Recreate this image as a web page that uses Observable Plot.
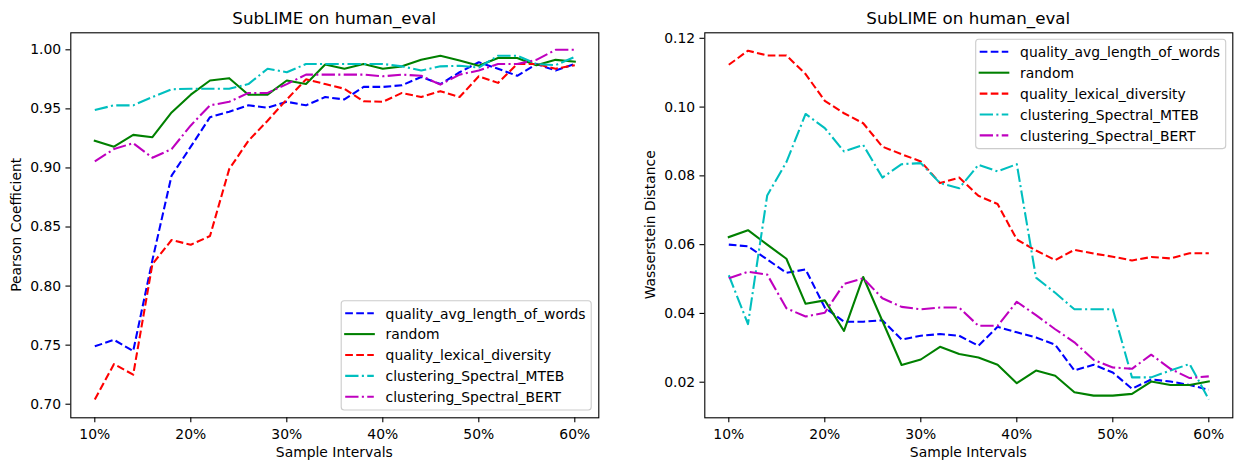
<!DOCTYPE html>
<html><head><meta charset="utf-8">
<script src="https://cdn.jsdelivr.net/npm/d3@7"></script>
<script src="https://cdn.jsdelivr.net/npm/@observablehq/plot@0.6"></script>
<style>
html,body{margin:0;padding:0;background:#fff;}
#wrap{position:relative;width:1242px;height:470px;font-family:"DejaVu Sans";}
#wrap svg{position:absolute;top:0;overflow:visible;}
</style></head><body><div id="wrap"></div>
<script>
// Sample intervals (%)
const intervals = [10,12,14,16,18,20,22,24,26,28,30,32,34,36,38,40,42,44,46,48,50,52,54,56,58,60];
const xTicks = [10,20,30,40,50,60];

const seriesNames = ["quality_avg_length_of_words","random","quality_lexical_diversity","clustering_Spectral_MTEB","clustering_Spectral_BERT"];
const seriesColors = ["#0000ff","#008000","#ff0000","#00bfbf","#bf00bf"];
const seriesDash = ["7.7,3.33", null, "7.7,3.33", "13.3,3.33,2.08,3.33", "13.3,3.33,2.08,3.33"];

// Pearson Coefficient panel
const pearsonAvgLen   = [0.749,0.7545,0.745,0.822,0.8935,0.918,0.943,0.9476,0.953,0.951,0.956,0.953,0.960,0.958,0.9686,0.9686,0.970,0.977,0.971,0.981,0.9895,0.984,0.978,0.988,0.9825,0.988];
const pearsonRandom   = [0.923,0.918,0.928,0.926,0.947,0.962,0.974,0.976,0.962,0.962,0.974,0.971,0.9875,0.984,0.988,0.984,0.986,0.9915,0.995,0.991,0.9865,0.993,0.993,0.987,0.9915,0.990];
const pearsonLexical  = [0.704,0.734,0.725,0.8186,0.839,0.835,0.8424,0.899,0.923,0.940,0.958,0.975,0.971,0.967,0.9564,0.956,0.9635,0.960,0.965,0.960,0.9776,0.972,0.988,0.988,0.984,0.987];
const pearsonMTEB     = [0.949,0.953,0.953,0.960,0.9666,0.967,0.967,0.967,0.971,0.984,0.981,0.988,0.988,0.988,0.988,0.988,0.986,0.9825,0.986,0.9865,0.985,0.995,0.995,0.988,0.987,0.994];
const pearsonBERT     = [0.9055,0.916,0.921,0.9086,0.916,0.936,0.953,0.956,0.9635,0.9635,0.971,0.979,0.979,0.979,0.979,0.9776,0.979,0.978,0.9705,0.979,0.9825,0.988,0.988,0.9915,1.000,1.000];
const pearsonTicks = [0.70,0.75,0.80,0.85,0.90,0.95,1.00];

// Wasserstein Distance panel
const wassAvgLen  = [0.0600,0.0595,0.0557,0.0518,0.0528,0.0417,0.0376,0.0376,0.0380,0.0324,0.0335,0.0340,0.0335,0.0306,0.0361,0.0345,0.0330,0.0309,0.0234,0.0251,0.0228,0.0181,0.0208,0.0202,0.0192,0.0178];
const wassRandom  = [0.0622,0.0642,0.0600,0.0559,0.0428,0.0438,0.0349,0.0506,0.0378,0.0250,0.0266,0.0303,0.0282,0.0272,0.0251,0.0197,0.0234,0.0219,0.0171,0.0161,0.0161,0.0166,0.0202,0.0192,0.0192,0.0202];
const wassLexical = [0.1123,0.1164,0.1150,0.1150,0.1096,0.1018,0.0982,0.0953,0.0885,0.0863,0.0842,0.0779,0.0795,0.0742,0.0718,0.0615,0.0583,0.0555,0.0585,0.0574,0.0565,0.0554,0.0564,0.0560,0.0575,0.0575];
const wassMTEB    = [0.0511,0.0369,0.0743,0.0840,0.0980,0.0939,0.0871,0.0890,0.0795,0.0834,0.0837,0.0779,0.0764,0.0832,0.0813,0.0834,0.0504,0.0460,0.0412,0.0412,0.0412,0.0214,0.0214,0.0234,0.0253,0.0150];
const wassBERT    = [0.0502,0.0521,0.0513,0.0415,0.0391,0.0402,0.0486,0.0502,0.0444,0.0419,0.0412,0.0417,0.0417,0.0364,0.0364,0.0434,0.0395,0.0354,0.0316,0.0265,0.0243,0.0239,0.0280,0.0239,0.0212,0.0217];
const wassTicks = [0.02,0.04,0.06,0.08,0.10,0.12];

const FS = 13.9;
const W = 621, H = 470;
const wrap = document.getElementById("wrap");

function panel(opt) {
  const marks = [];
  opt.values.forEach((vals, k) => {
    const rows = intervals.map((x, i) => ({x, y: vals[i]}));
    marks.push(Plot.line(rows, {
      x: "x", y: "y", stroke: seriesColors[k], strokeWidth: 2.08,
      strokeDasharray: seriesDash[k] || undefined,
      strokeLinecap: seriesDash[k] ? "butt" : "square",
      strokeLinejoin: "round"
    }));
  });
  marks.push(Plot.frame({stroke: "black", strokeWidth: 1.1}));
  marks.push(Plot.axisX({ticks: xTicks, tickFormat: d => d + "%", tickSize: 4.86, tickPadding: 6.3, strokeWidth: 1.1, fontSize: FS}));
  marks.push(Plot.axisY({ticks: opt.yTicks, tickFormat: d3.format(".2f"), tickSize: 4.86, tickPadding: 4.86, strokeWidth: 1.1, fontSize: FS}));
  const svg = Plot.plot({
    width: W, height: H,
    marginLeft: opt.marginLeft, marginRight: opt.marginRight, marginTop: 32.3, marginBottom: H - 417.3,
    style: {fontFamily: "DejaVu Sans", fontSize: FS + "px", color: "black", background: "transparent"},
    x: {domain: [7.5, 62.5], label: null},
    y: {domain: opt.yDomain, label: null},
    marks
  });
  svg.style.left = opt.left + "px";
  wrap.appendChild(svg);
  const s = d3.select(svg);
  const fl = opt.marginLeft, fr = W - opt.marginRight;
  const cx = (fl + fr) / 2;
  s.append("text").attr("x", cx).attr("y", 24).attr("text-anchor", "middle")
    .attr("font-size", 16.7).attr("fill", "black").text(opt.title);
  s.append("text").attr("x", cx).attr("y", 457).attr("text-anchor", "middle")
    .attr("font-size", FS).attr("fill", "black").text("Sample Intervals");
  s.append("text").attr("transform", `translate(${opt.ylabelX},${(32.3 + 417.3) / 2}) rotate(-90)`)
    .attr("text-anchor", "middle").attr("font-size", FS).attr("fill", "black").text(opt.ylabel);
  // legend
  const lg = s.append("g");
  const L = opt.legend;
  lg.append("rect").attr("x", L.x).attr("y", L.y).attr("width", 250).attr("height", 109.3)
    .attr("rx", 3).attr("fill", "white").attr("fill-opacity", 0.8).attr("stroke", "#cccccc").attr("stroke-width", 1.1);
  seriesNames.forEach((name, k) => {
    const yy = L.y + 12.5 + k * 20.9;
    lg.append("line").attr("x1", L.x + 4).attr("x2", L.x + 32.6).attr("y1", yy).attr("y2", yy)
      .attr("stroke", seriesColors[k]).attr("stroke-width", 2.08)
      .attr("stroke-dasharray", seriesDash[k]).attr("stroke-linecap", seriesDash[k] ? "butt" : "square");
    lg.append("text").attr("x", L.x + 44.4).attr("y", yy + 5.3).attr("text-anchor", "start")
      .attr("font-size", FS).attr("fill", "black").text(name);
  });
}

panel({
  left: 0, marginLeft: 70.3, marginRight: W - 598.3,
  values: [pearsonAvgLen, pearsonRandom, pearsonLexical, pearsonMTEB, pearsonBERT],
  yDomain: [0.6885, 1.0144], yTicks: pearsonTicks,
  title: "SubLIME on human_eval", ylabel: "Pearson Coefficient", ylabelX: 20.8,
  legend: {x: 341.2, y: 300.7}
});
panel({
  left: 621, marginLeft: 704.3 - 621, marginRight: 1242 - 1232.3,
  values: [wassAvgLen, wassRandom, wassLexical, wassMTEB, wassBERT],
  yDomain: [0.00965, 0.1216], yTicks: wassTicks,
  title: "SubLIME on human_eval", ylabel: "Wasserstein Distance", ylabelX: 654.8 - 621,
  legend: {x: 975.7 - 621, y: 39.3}
});
</script></body></html>
